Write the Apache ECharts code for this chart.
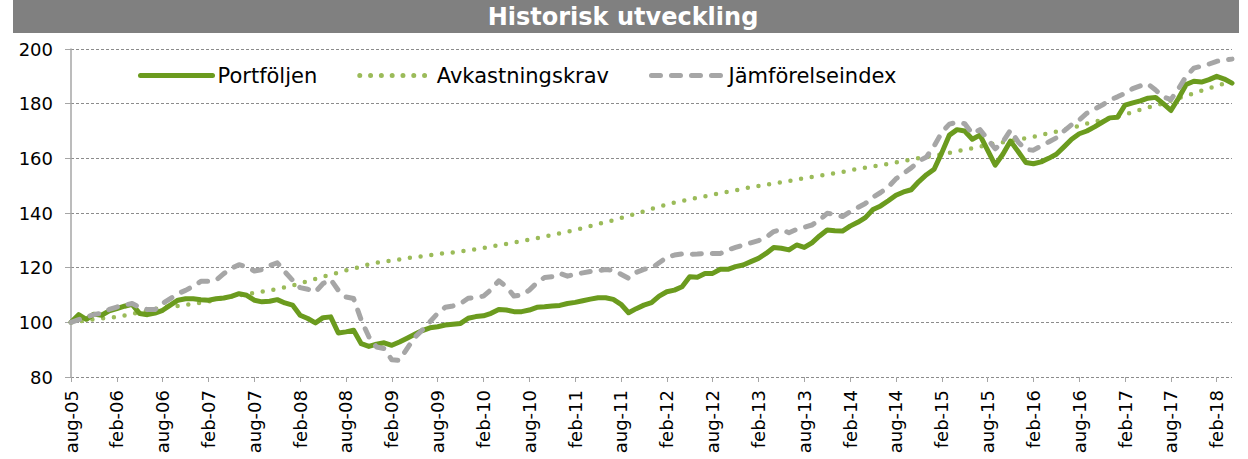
<!DOCTYPE html>
<html>
<head>
<meta charset="utf-8">
<script src="https://cdn.jsdelivr.net/npm/echarts@6/dist/echarts.min.js"></script>
<style>
html,body{margin:0;padding:0;background:#fff;}
#c{width:1248px;height:459px;}
</style>
</head>
<body>
<div id="c"></div>
<script>
var titleText = 'Historisk utveckling';
var seriesNames = ['Portföljen', 'Avkastningskrav', 'Jämförelseindex'];

var months = [
'aug-05','sep-05','okt-05','nov-05','dec-05',
'jan-06','feb-06','mar-06','apr-06','maj-06','jun-06','jul-06','aug-06','sep-06','okt-06','nov-06','dec-06',
'jan-07','feb-07','mar-07','apr-07','maj-07','jun-07','jul-07','aug-07','sep-07','okt-07','nov-07','dec-07',
'jan-08','feb-08','mar-08','apr-08','maj-08','jun-08','jul-08','aug-08','sep-08','okt-08','nov-08','dec-08',
'jan-09','feb-09','mar-09','apr-09','maj-09','jun-09','jul-09','aug-09','sep-09','okt-09','nov-09','dec-09',
'jan-10','feb-10','mar-10','apr-10','maj-10','jun-10','jul-10','aug-10','sep-10','okt-10','nov-10','dec-10',
'jan-11','feb-11','mar-11','apr-11','maj-11','jun-11','jul-11','aug-11','sep-11','okt-11','nov-11','dec-11',
'jan-12','feb-12','mar-12','apr-12','maj-12','jun-12','jul-12','aug-12','sep-12','okt-12','nov-12','dec-12',
'jan-13','feb-13','mar-13','apr-13','maj-13','jun-13','jul-13','aug-13','sep-13','okt-13','nov-13','dec-13',
'jan-14','feb-14','mar-14','apr-14','maj-14','jun-14','jul-14','aug-14','sep-14','okt-14','nov-14','dec-14',
'jan-15','feb-15','mar-15','apr-15','maj-15','jun-15','jul-15','aug-15','sep-15','okt-15','nov-15','dec-15',
'jan-16','feb-16','mar-16','apr-16','maj-16','jun-16','jul-16','aug-16','sep-16','okt-16','nov-16','dec-16',
'jan-17','feb-17','mar-17','apr-17','maj-17','jun-17','jul-17','aug-17','sep-17','okt-17','nov-17','dec-17',
'jan-18','feb-18','mar-18','apr-18'
];

var portfoljen = [
100,102.8,101.1,103,102.6,104.2,105,105.9,106.6,103.2,102.8,103.4,104.4,106.3,108.1,108.6,108.6,108.3,108.1,108.6,
108.9,109.5,110.5,109.9,108.1,107.5,107.7,108.3,107.1,106.3,102.6,101.4,99.8,101.7,102,96.1,96.5,97.1,92.2,91.2,
92,92.5,91.6,92.8,94.2,95.6,97,98,98.4,99,99.3,99.6,101.5,102.1,102.4,103.3,104.7,104.5,103.9,103.9,
104.5,105.5,105.7,106,106.2,106.9,107.3,107.9,108.5,109,109,108.4,106.6,103.5,105,106.3,107.2,109.6,111.2,111.8,
113,116.7,116.5,117.9,117.9,119.4,119.4,120.4,121,122.2,123.4,125.2,127.4,127.1,126.5,128.3,127.4,129.1,131.6,133.8,
133.5,133.4,135.2,136.6,138.3,141.3,142.6,144.5,146.5,147.7,148.5,151.5,154,156,162,168.5,170.5,170,167,168.5,
163,157.5,161.5,166.3,162.5,158.5,158,158.7,160,161.5,164.2,167,169,170,171.5,173.2,174.8,175,179.5,180.3,
181,182,182.3,180,177.5,182,187,188.2,187.9,188.8,190,189,187.5
];

var avkastningskrav = [
100,100.4,100.7,101.1,101.4,101.7,102,102.5,103.1,103.6,104.2,104.9,105.5,105.8,106,106.4,106.8,107.1,107.6,108.3,
109,109.4,109.9,110.3,110.8,111.2,111.7,112.2,112.8,113.5,114.3,115.1,115.9,116.7,117.4,118.2,119,119.7,120.4,121.2,
121.8,122.2,122.6,123,123.5,123.9,124.2,124.6,125,125.3,125.6,125.9,126.3,126.7,127.2,127.7,128.2,128.7,129.2,129.8,
130.3,130.8,131.4,132,132.6,133.2,133.8,134.4,135.2,136,136.6,137.4,138.2,139,139.8,140.6,141.5,142.3,143.1,143.8,
144.4,145,145.6,146.1,146.7,147.3,147.8,148.3,148.9,149.4,149.9,150.4,150.8,151.2,151.7,152.2,152.8,153.2,153.6,154.1,
154.5,155,155.6,156.1,156.6,157,157.5,158,158.5,159,159.6,160.1,160.6,161,161.5,162,162.6,163.2,163.7,164.3,
165,165.5,165.9,166.4,166.9,167.4,167.9,168.5,169.2,169.8,170.5,171.1,171.9,172.7,173.4,174,174.7,175.3,176,177,
177.8,178.6,179.3,180.1,181.1,182,182.9,183.8,184.7,185.6,186.5,187.4,188.1
];

var jamforelseindex = [
100,101,102,102.8,103.4,104.7,105.6,106.3,106.9,105.4,104.7,104.7,106.9,108.7,110.5,111.7,113.2,115,115,115.4,
117.8,119.7,121.1,120.3,118.8,119.3,120.7,121.8,118.5,115.4,112.7,112.1,111.1,114.2,115.7,111.7,109.3,108.7,100.8,94.7,
91,90.4,86.3,86.1,90.4,94.5,97.2,100.2,103.3,105.5,106,106.9,108.8,109.1,109.6,112,115.2,113,109.6,110,
111.8,114.5,116.4,116.7,117.9,116.9,117.6,118.1,118.6,118.9,119.3,119.1,117.6,116.1,118.3,119.4,119.8,121.8,123.8,124.6,
125,124.9,125,125.2,125.2,125.2,126.5,127.4,128.3,129.1,129.9,131.1,133.2,134,132.8,134,134.8,135.6,137.4,139.9,
139.5,138.7,140.5,142,143.5,145.8,147.5,149.5,152.5,154.5,156.5,159,160.5,164.5,169.5,172.5,173.2,172.7,169,170.5,
167,163.5,166,170.3,166,163.2,163,164.5,166,167.5,170,172.3,174,176.5,178,179.5,181.3,182.5,183.8,185.5,
186.5,187.2,185,182.5,181.5,185.5,190,193,193.7,194.5,195.5,196,196.3
];

var yTicks = [80, 100, 120, 140, 160, 180, 200];
var labelStep = 6;

var chart = echarts.init(document.getElementById('c'), null, {renderer: 'svg'});
var font = 'DejaVu Sans, Verdana, sans-serif';

chart.setOption({
  animation: false,
  backgroundColor: '#ffffff',
  graphic: [
    {type: 'rect', left: 13, top: 0, shape: {width: 1226, height: 33}, style: {fill: '#808080'}, z: 0},
    {type: 'text', x: 623, y: 17, style: {text: titleText, fill: '#ffffff', font: 'bold 24px ' + font, textAlign: 'center', textVerticalAlign: 'middle'}, z: 1}
  ],
  legend: {
    left: 133,
    top: 60,
    itemWidth: 72,
    itemHeight: 14,
    itemGap: 40,
    itemStyle: {opacity: 0},
    lineStyle: {width: 5},
    textStyle: {fontFamily: font, fontSize: 21, color: '#000000'},
    data: seriesNames
  },
  grid: {left: 71, right: 16, top: 49, bottom: 82, containLabel: false},
  xAxis: {
    type: 'category',
    data: months,
    boundaryGap: false,
    axisLine: {show: false},
    axisTick: {show: true, interval: labelStep - 1, length: 5, lineStyle: {color: '#a6a6a6', width: 1}},
    axisLabel: {show: true, interval: labelStep - 1, rotate: 90, margin: 13, fontFamily: font, fontSize: 18, color: '#000000'},
    splitLine: {show: false}
  },
  yAxis: {
    type: 'value',
    min: yTicks[0],
    max: yTicks[yTicks.length - 1],
    interval: 20,
    axisLine: {show: true, lineStyle: {color: '#a6a6a6', width: 1.5}},
    axisTick: {show: true, length: 6, lineStyle: {color: '#a6a6a6'}},
    axisLabel: {margin: 18, fontFamily: font, fontSize: 18, color: '#000000'},
    splitLine: {show: true, lineStyle: {color: '#8c8c8c', width: 1, type: [3, 2]}}
  },
  series: [
    {
      name: seriesNames[0], type: 'line', data: portfoljen, symbol: 'none', z: 3,
      lineStyle: {color: '#6b9b1e', width: 5, cap: 'round', join: 'round'},
      itemStyle: {color: '#6b9b1e'}
    },
    {
      name: seriesNames[1], type: 'line', data: avkastningskrav, symbol: 'none', z: 2,
      lineStyle: {color: '#9bbb59', width: 4.5, type: [0, 10.8], cap: 'round'},
      itemStyle: {color: '#9bbb59'}
    },
    {
      name: seriesNames[2], type: 'line', data: jamforelseindex, symbol: 'none', z: 4,
      lineStyle: {color: '#a6a6a6', width: 5, type: [9, 11], cap: 'round', join: 'round'},
      itemStyle: {color: '#a6a6a6'}
    }
  ]
});
</script>
</body>
</html>
